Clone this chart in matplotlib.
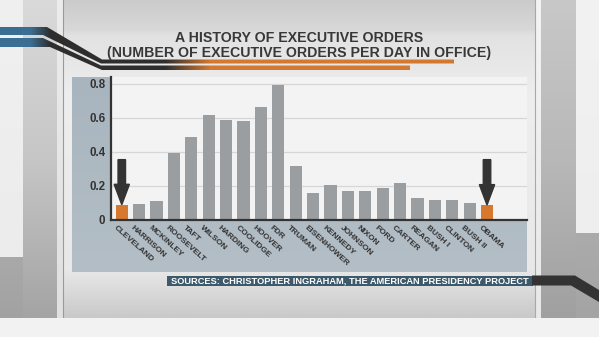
import numpy as np
import matplotlib
matplotlib.use("Agg")
import matplotlib.pyplot as plt
from matplotlib.patches import Polygon, Rectangle, FancyArrow
from matplotlib.colors import to_rgb
import matplotlib.transforms as mtransforms

# ---- data -------------------------------------------------------------
presidents = ["CLEVELAND", "HARRISON", "MCKINLEY", "ROOSEVELT", "TAFT", "WILSON",
              "HARDING", "COOLIDGE", "HOOVER", "FDR", "TRUMAN", "EISENHOWER",
              "KENNEDY", "JOHNSON", "NIXON", "FORD", "CARTER", "REAGAN",
              "BUSH I", "CLINTON", "BUSH II", "OBAMA"]
orders_per_day = [0.09, 0.095, 0.11, 0.395, 0.49, 0.615, 0.59, 0.585, 0.665, 0.795,
                  0.32, 0.16, 0.205, 0.17, 0.168, 0.186, 0.217, 0.131,
                  0.115, 0.119, 0.098, 0.088]
highlighted = ["CLEVELAND", "OBAMA"]
y_ticks = [0, 0.2, 0.4, 0.6, 0.8]
y_tick_labels = ["0", "0.2", "0.4", "0.6", "0.8"]
title_lines = ["A HISTORY OF EXECUTIVE ORDERS",
               "(NUMBER OF EXECUTIVE ORDERS PER DAY IN OFFICE)"]
source_text = "SOURCES: CHRISTOPHER INGRAHAM, THE AMERICAN PRESIDENCY PROJECT"

FONT = ["Liberation Sans", "DejaVu Sans"]
W, H = 599, 337
fig = plt.figure(figsize=(W / 100, H / 100), dpi=100)
fig.patch.set_facecolor("#f0f0f0")

# ---- backdrop drawn in pixel coordinates ------------------------------
bg = fig.add_axes([0, 0, 1, 1])
bg.set_xlim(0, W)
bg.set_ylim(H, 0)
bg.axis("off")


def vgrad(x0, x1, y0, y1, stops, z=0):
    """Vertical gradient; stops = [(frac, color), ...] top to bottom."""
    n = 200
    t = np.linspace(0, 1, n)
    fr = [s[0] for s in stops]
    cols = np.array([to_rgb(s[1]) for s in stops])
    img = np.stack([np.interp(t, fr, cols[:, k]) for k in range(3)], axis=-1)
    img = img[:, None, :]
    bg.imshow(img, extent=(x0, x1, y1, y0), aspect="auto", origin="upper",
              interpolation="bilinear", zorder=z)


def hgrad_clip(poly_pts, stops, z=5):
    """Horizontal gradient clipped to a polygon; stops = [(x, color), ...]."""
    xs = np.arange(W)
    px = [s[0] for s in stops]
    cols = np.array([to_rgb(s[1]) for s in stops])
    row = np.stack([np.interp(xs, px, cols[:, k]) for k in range(3)], axis=-1)
    img = row[None, :, :]
    poly = Polygon(poly_pts, closed=True, facecolor="none", edgecolor="none")
    bg.add_patch(poly)
    im = bg.imshow(img, extent=(0, W, H, 0), aspect="auto", origin="upper",
                   interpolation="bilinear", zorder=z)
    im.set_clip_path(poly)


# outer studio frame
vgrad(0, 23, 0, 257, [(0, "#f0f0f0"), (1, "#ececec")])
vgrad(0, 23, 257, 318, [(0, "#a9a9a9"), (1, "#a2a2a2")])
vgrad(23, 57, 0, 318, [(0, "#dadada"), (0.5, "#c6c6c6"), (1, "#a4a4a4")])
vgrad(57, 63, 0, 318, [(0, "#ececec"), (1, "#e0e0e0")])
vgrad(576, W, 0, 233, [(0, "#f2f2f2"), (1, "#eeeeee")])
vgrad(576, W, 233, 318, [(0, "#ababab"), (1, "#a4a4a4")])
vgrad(541, 576, 0, 318, [(0, "#c8c8c8"), (0.5, "#b8b8b8"), (1, "#a0a0a0")])
vgrad(535, 541, 0, 318, [(0, "#f4f4f4"), (1, "#e8e8e8")])
# inner board
vgrad(63, 535, 0, 318, [(0, "#cbcbcb"), (0.09, "#d8d8d8"), (0.11, "#e2e2e2"),
                        (0.3, "#eeeeee"), (0.85, "#e8e8e8"), (1, "#c9c9c9")])
bg.plot([63, 63], [0, 318], color="#9a9a9a", lw=0.8, zorder=1)
bg.plot([535, 535], [0, 318], color="#a8a8a8", lw=0.8, zorder=1)
bg.add_patch(Rectangle((0, 318), W, H - 318, facecolor="#f2f2f2",
                       edgecolor="none", zorder=1))

# chart panel (blue-grey)
vgrad(72, 527, 77, 272, [(0, "#a9b5be"), (1, "#b3bec6")], z=2)

# swoosh bands leading into the title
band_stops = [(0, "#3b6e93"), (30, "#3b6e93"), (50, "#2e2e2e"),
              (165, "#2e2e2e"), (210, "#d4792f"), (W, "#d4792f")]
hgrad_clip([(0, 27), (47, 27), (102, 59.5), (454, 59.5), (454, 63.5),
            (101, 63.5), (43, 35), (0, 35)], band_stops)
hgrad_clip([(0, 38), (43, 38), (101, 65.5), (410, 65.5), (410, 70),
            (102, 70), (50, 47), (0, 47)], band_stops)

# title
for k, line in enumerate(title_lines):
    bg.text(299, 38 + 15 * k, line, ha="center", va="center",
            fontsize=10.2, fontweight="bold", color="#383838",
            family=FONT, zorder=6)

# source banner
bg.add_patch(Rectangle((167, 275.5), 366, 10, facecolor="#3d5a6c",
                       edgecolor="none", zorder=6))
bg.add_patch(Polygon([(532, 275.5), (575, 275.5), (W, 290), (W, 302),
                      (571, 285.5), (532, 285.5)], closed=True,
                     facecolor="#333333", edgecolor="none", zorder=6))
bg.text(171, 281, source_text, ha="left", va="center", fontsize=6.7,
        fontweight="bold", color="white", family=FONT, zorder=7)

# ---- bar chart --------------------------------------------------------
ax = fig.add_axes([111 / W, (H - 220) / H, (527 - 111) / W, (220 - 77) / H])
ax.set_facecolor("#f3f3f3")
x = np.arange(len(presidents))
colors = ["#d6792e" if p in highlighted else "#9b9ea0" for p in presidents]
ax.bar(x, orders_per_day, width=0.7, color=colors, zorder=3)

ax.set_xlim(-0.62, 23.3)
ax.set_ylim(0, 0.841)
ax.set_yticks(y_ticks)
ax.set_yticklabels(y_tick_labels, fontsize=8.3, fontweight="bold",
                   color="#333333", family=FONT)
ax.tick_params(axis="y", length=0, pad=4)
ax.set_xticks([])
ax.grid(axis="y", color="#d6d6d6", lw=0.9, zorder=1)
for s in ["top", "right"]:
    ax.spines[s].set_visible(False)
for s in ["left", "bottom"]:
    ax.spines[s].set_color("#333333")
    ax.spines[s].set_linewidth(1.6)
    ax.spines[s].set_zorder(4)

# arrows pointing at the highlighted presidents
for p in highlighted:
    i = presidents.index(p)
    top = 0.355
    v = orders_per_day[i]
    ax.add_patch(FancyArrow(i, top, 0, v - top, width=0.43, head_width=0.88,
                            head_length=0.12, length_includes_head=True,
                            color="#333333", zorder=5))

# rotated president names
offset = mtransforms.ScaledTranslation(0, -4 / 100, fig.dpi_scale_trans)
for i, name in enumerate(presidents):
    ax.text(i - 0.29, 0, name, transform=ax.transData + offset,
            rotation=-42, rotation_mode="anchor", ha="left", va="top",
            fontsize=6, fontweight="bold", color="#333333", family=FONT,
            clip_on=False)

fig.savefig("out.png", dpi=100)
